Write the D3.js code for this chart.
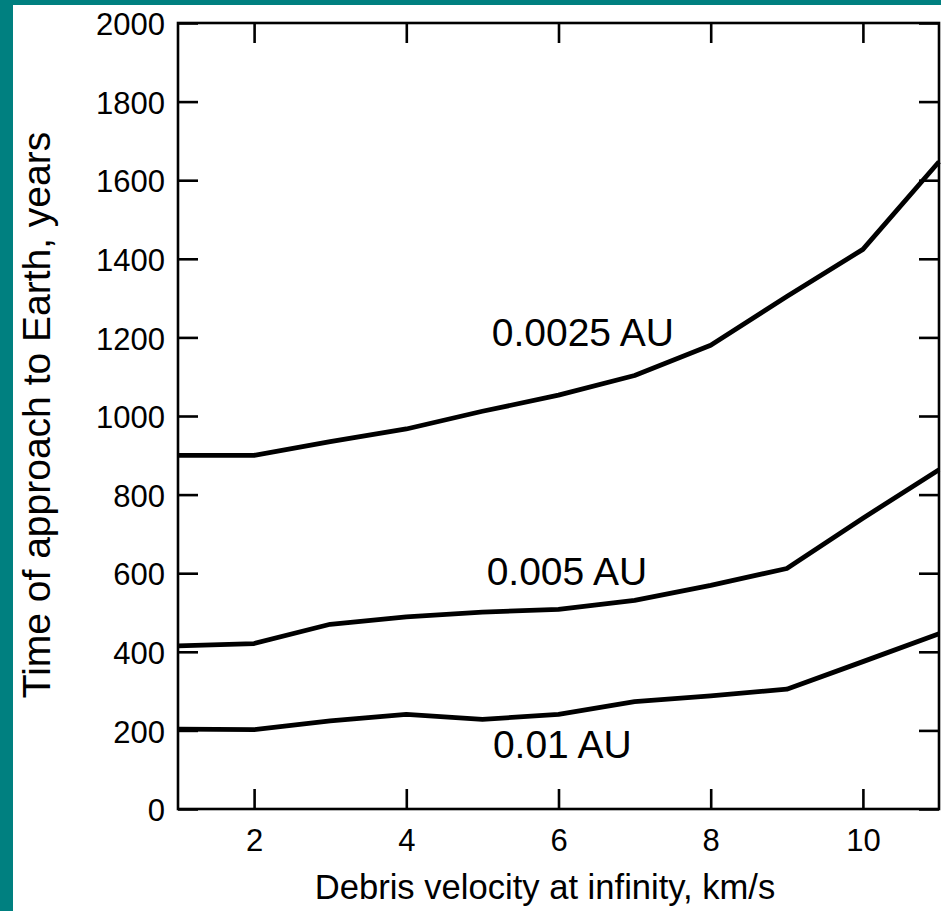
<!DOCTYPE html>
<html>
<head>
<meta charset="utf-8">
<script src="https://cdn.jsdelivr.net/npm/d3@7"></script>
<style>
  html, body { margin: 0; padding: 0; background: #008080; }
  svg { display: block; }
</style>
</head>
<body>
<svg id="chart" width="941" height="911"></svg>
<script>
const velocities = [1, 2, 3, 4, 5, 6, 7, 8, 9, 10, 11];
const seriesNames = ["0.0025 AU", "0.005 AU", "0.01 AU"];
const values0025 = [900, 900, 935, 967, 1012, 1053, 1103, 1180, 1304, 1424, 1647];
const values005 = [415, 421, 470, 489, 501, 508, 531, 569, 612, 740, 863];
const values01 = [203, 202, 224, 241, 228, 241, 273, 288, 305, 375, 446];
const xTicks = [2, 4, 6, 8, 10];
const yTicks = [0, 200, 400, 600, 800, 1000, 1200, 1400, 1600, 1800, 2000];
const xTitle = "Debris velocity at infinity, km/s";
const yTitle = "Time of approach to Earth, years";
// label anchor positions in data units
const labelX = [6.32, 6.11, 6.05];
const labelY = [1178, 570, 130];

const svg = d3.select("#chart");
const W = 941, H = 911;
const font = "'Liberation Sans', Arial, sans-serif";

// white panel
svg.append("rect").attr("x", 13).attr("y", 5).attr("width", W - 13).attr("height", H - 5).attr("fill", "#ffffff");

const m = { left: 178, right: 939, top: 23, bottom: 809 };
const x = d3.scaleLinear().domain([1, 11]).range([m.left, m.right]);
const y = d3.scaleLinear().domain([0, 2000]).range([m.bottom, m.top]);

const tickLen = 20;
const axisStyle = g => {
  g.select(".domain").remove();
  g.selectAll(".tick line").attr("stroke", "#000").attr("stroke-width", 2.6);
  g.selectAll(".tick text").attr("fill", "#000").style("font-family", font).style("font-size", "31px");
};

// bottom axis
svg.append("g").attr("transform", `translate(0,${m.bottom})`)
  .call(d3.axisBottom(x).tickValues(xTicks).tickSizeInner(-tickLen).tickSizeOuter(0).tickPadding(20).tickFormat(d3.format("d")))
  .call(axisStyle);
// top axis
svg.append("g").attr("transform", `translate(0,${m.top})`)
  .call(d3.axisTop(x).tickValues(xTicks).tickSizeInner(-tickLen).tickSizeOuter(0).tickFormat(""))
  .call(axisStyle);
// left axis
svg.append("g").attr("transform", `translate(${m.left},0)`)
  .call(d3.axisLeft(y).tickValues(yTicks).tickSizeInner(-tickLen).tickSizeOuter(0).tickPadding(13).tickFormat(d3.format("d")))
  .call(axisStyle)
  .call(g => g.selectAll(".tick text").attr("dy", "0.38em"));
// right axis
svg.append("g").attr("transform", `translate(${m.right},0)`)
  .call(d3.axisRight(y).tickValues(yTicks).tickSizeInner(-tickLen).tickSizeOuter(0).tickFormat(""))
  .call(axisStyle);

// frame
svg.append("rect").attr("x", m.left).attr("y", m.top)
  .attr("width", m.right - m.left).attr("height", m.bottom - m.top)
  .attr("fill", "none").attr("stroke", "#000").attr("stroke-width", 2.6);

// lines
const series = [values0025, values005, values01];
const line = d3.line().x((d, i) => x(velocities[i])).y(d => y(d));
series.forEach(vals => {
  svg.append("path").datum(vals).attr("d", line)
    .attr("fill", "none").attr("stroke", "#000").attr("stroke-width", 4.8)
    .attr("stroke-linejoin", "round");
});

// series labels
seriesNames.forEach((name, i) => {
  svg.append("text").attr("x", x(labelX[i])).attr("y", y(labelY[i]))
    .attr("text-anchor", "middle").style("font-family", font).style("font-size", "39px")
    .attr("fill", "#000").text(name);
});

// axis titles
svg.append("text").attr("x", 545).attr("y", 899)
  .attr("text-anchor", "middle").style("font-family", font).style("font-size", "34.6px")
  .attr("fill", "#000").text(xTitle);
svg.append("text").attr("transform", `translate(50,415) rotate(-90)`)
  .attr("text-anchor", "middle").style("font-family", font).style("font-size", "39px")
  .attr("fill", "#000").text(yTitle);
</script>
</body>
</html>
